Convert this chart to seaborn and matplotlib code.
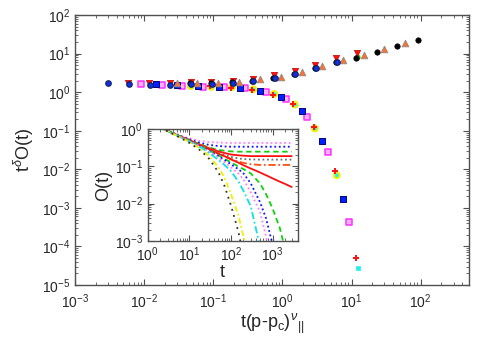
import numpy as np
import matplotlib
matplotlib.use('Agg')
import matplotlib.pyplot as plt
from matplotlib.ticker import LogLocator, NullFormatter
import seaborn as sns

# ---- main panel: scaled data t^delta O(t) vs t(p-pc)^nu ----
# upper branch (active side)
blue_x = [0.003, 0.006, 0.012, 0.024, 0.048, 0.096, 0.19, 0.38, 0.77, 1.54, 3.07, 6.1]
blue_y = [1.7, 1.6, 1.55, 1.55, 1.6, 1.6, 1.7, 1.9, 2.35, 3.0, 4.2, 5.9]
red_x = [0.0059, 0.0118, 0.0236, 0.047, 0.094, 0.19, 0.38, 0.75, 1.5, 3.0, 6.0, 12.2]
red_y = [1.75, 1.7, 1.7, 1.8, 1.85, 1.9, 2.15, 2.75, 3.6, 5.1, 7.5, 10.5]
tri_x = [0.0295, 0.059, 0.118, 0.236, 0.47, 0.95, 1.9, 3.8, 7.6, 15.1, 30, 60]
tri_y = [1.76, 1.7, 1.76, 1.87, 2.15, 2.5, 3.4, 4.8, 6.7, 9.5, 13.4, 19]
black_x = [0.046, 0.092, 0.184, 0.368, 0.736, 1.47, 2.94, 5.9, 11.7, 23, 46, 92]
black_y = [1.76, 1.75, 1.8, 1.95, 2.3, 3.0, 4.2, 6.0, 7.8, 11.2, 15.9, 22.4]
green_x = [1.5, 3.0, 6.0, 12.0]
green_y = [3.0, 4.2, 5.9, 8.3]

# lower branch (absorbing side)
mag_x = [0.0089, 0.0178, 0.0356, 0.071, 0.142, 0.285, 0.57, 1.14, 2.28, 4.56, 9.1]
mag_y = [1.62, 1.55, 1.44, 1.4, 1.35, 1.26, 1.02, 0.66, 0.23, 0.028, 4.3e-4]
bsq_x = [0.015, 0.03, 0.06, 0.12, 0.24, 0.48, 0.96, 1.9, 3.8, 7.6]
bsq_y = [1.62, 1.55, 1.47, 1.38, 1.26, 1.08, 0.76, 0.33, 0.055, 1.7e-3]
yel_x = [0.047, 0.093, 0.186, 0.38, 0.76, 1.51, 2.95, 6.1]
yel_y = [1.45, 1.38, 1.35, 1.19, 0.9, 0.48, 0.115, 7e-3]
cyan_x = yel_x + [12.3]
cyan_y = yel_y + [2.8e-5]
plus_x = [0.09, 0.18, 0.36, 0.72, 1.44, 2.85, 5.75, 11.5]
plus_y = [1.42, 1.3, 1.15, 0.85, 0.5, 0.128, 9e-3, 5.1e-5]

# ---- inset: raw O(t) ----
t_grid = [2, 3, 5, 7, 10, 15, 20, 30, 50, 70, 100, 150, 200, 300, 500, 700, 1000, 1500, 2000, 2900]
nan = np.nan
o_crit = [1.12, 0.91, 0.70, 0.60, 0.50, 0.41, 0.35, 0.29, 0.22, 0.19, 0.155, 0.127, 0.108, 0.088, 0.069, 0.058, 0.048, 0.039, 0.034, 0.028]
o_mag_up = [1.15, 0.93, 0.74, 0.64, 0.57, 0.51, 0.48, 0.455, 0.44, 0.435, 0.43, 0.43, 0.43, 0.43, 0.43, 0.43, 0.43, 0.43, 0.43, 0.43]
o_blue_up = [1.14, 0.92, 0.72, 0.62, 0.54, 0.46, 0.42, 0.38, 0.355, 0.345, 0.34, 0.34, 0.34, 0.34, 0.34, 0.34, 0.34, 0.34, 0.34, 0.34]
o_green_up = [1.13, 0.92, 0.71, 0.61, 0.52, 0.43, 0.38, 0.32, 0.28, 0.265, 0.255, 0.25, 0.25, 0.25, 0.25, 0.25, 0.25, 0.25, 0.25, 0.25]
o_red_up = [1.12, 0.91, 0.70, 0.60, 0.51, 0.42, 0.37, 0.31, 0.255, 0.23, 0.21, 0.2, 0.195, 0.19, 0.19, 0.19, 0.19, 0.19, 0.19, 0.19]
o_gray_up = [1.12, 0.91, 0.70, 0.60, 0.50, 0.41, 0.36, 0.30, 0.235, 0.205, 0.18, 0.165, 0.158, 0.155, 0.153, 0.153, 0.153, 0.153, 0.153, 0.153]
o_orange_up = [1.12, 0.91, 0.70, 0.60, 0.50, 0.41, 0.355, 0.29, 0.225, 0.19, 0.16, 0.135, 0.125, 0.115, 0.11, 0.11, 0.11, 0.11, 0.11, 0.11]
o_green_dn = [1.12, 0.91, 0.69, 0.59, 0.49, 0.40, 0.34, 0.27, 0.2, 0.16, 0.13, 0.1, 0.085, 0.065, 0.035, 0.018, 0.0075, 0.0022, 0.0006, nan]
o_blue_dn = [1.12, 0.91, 0.69, 0.59, 0.49, 0.40, 0.34, 0.26, 0.19, 0.15, 0.115, 0.085, 0.065, 0.035, 0.011, 0.004, 0.0008, nan, nan, nan]
o_mag_dn = [1.12, 0.91, 0.69, 0.59, 0.48, 0.39, 0.33, 0.25, 0.175, 0.13, 0.095, 0.065, 0.045, 0.02, 0.006, 0.0013, 0.0002, nan, nan, nan]
o_cyan_dn = [1.11, 0.90, 0.68, 0.58, 0.47, 0.37, 0.31, 0.23, 0.15, 0.11, 0.075, 0.04, 0.022, 0.0085, 0.0007, 0.00015, nan, nan, nan, nan]
o_yel_dn = [1.10, 0.89, 0.67, 0.56, 0.45, 0.35, 0.28, 0.19, 0.095, 0.05, 0.018, 0.005, 0.0013, 0.00012, nan, nan, nan, nan, nan, nan]
o_black_dn = [1.10, 0.88, 0.66, 0.54, 0.43, 0.32, 0.25, 0.16, 0.07, 0.03, 0.009, 0.0018, 0.0004, nan, nan, nan, nan, nan, nan, nan]

sns.set_style('ticks')
plt.rcParams['font.family'] = ['Liberation Sans', 'DejaVu Sans']
plt.rcParams['mathtext.fontset'] = 'custom'
plt.rcParams['mathtext.rm'] = 'Liberation Sans'
plt.rcParams['mathtext.it'] = 'Liberation Sans:italic'

fig = plt.figure(figsize=(4.91, 3.43), dpi=100)
ax = fig.add_axes([0.153, 0.169, 0.802, 0.787])


def style_log_axes(a, size):
    a.set_xscale('log')
    a.set_yscale('log')
    for s in a.spines.values():
        s.set_color('#505050')
        s.set_linewidth(1.0)
    a.tick_params(which='both', direction='in', top=True, right=True, color='#505050', labelsize=size)
    a.tick_params(which='major', length=4, width=0.8)
    a.tick_params(which='minor', length=2, width=0.6)
    for axis in (a.xaxis, a.yaxis):
        axis.set_major_locator(LogLocator(base=10, numticks=20))
        axis.set_minor_locator(LogLocator(base=10, subs=np.arange(2, 10), numticks=100))
        axis.set_minor_formatter(NullFormatter())


style_log_axes(ax, 10)
ax.tick_params(axis='x', pad=5)

# lower branch
sns.scatterplot(x=mag_x, y=mag_y, ax=ax, marker='s', s=15, color='#ffb0ff', edgecolor='#ff30ff', linewidth=1.1, zorder=3)
sns.scatterplot(x=bsq_x, y=bsq_y, ax=ax, marker='s', s=14, color='#0020ff', edgecolor='#000080', linewidth=0.7, zorder=3)
sns.scatterplot(x=cyan_x, y=cyan_y, ax=ax, marker='s', s=10, color='#20f0f0', edgecolor='#20f0f0', linewidth=0.5, zorder=3)
sns.scatterplot(x=yel_x, y=yel_y, ax=ax, marker='o', s=18, facecolor='none', edgecolor='#f0f000', linewidth=1.4, zorder=4)
sns.scatterplot(x=plus_x, y=plus_y, ax=ax, marker='+', s=22, color='#ff1010', linewidth=1.4, zorder=4)

# upper branch
sns.scatterplot(x=green_x, y=green_y, ax=ax, marker='o', s=14, color='#10e010', edgecolor='#10a010', linewidth=0.5, zorder=3)
sns.scatterplot(x=red_x, y=red_y, ax=ax, marker='v', s=20, color='#ff1010', edgecolor='#c00000', linewidth=0.5, zorder=3)
sns.scatterplot(x=tri_x, y=tri_y, ax=ax, marker='^', s=22, color='#ff7030', edgecolor='#a08878', linewidth=0.7, zorder=3)
sns.scatterplot(x=black_x, y=black_y, ax=ax, marker='o', s=15, color='black', edgecolor='black', linewidth=0.5, zorder=4)
sns.scatterplot(x=blue_x, y=blue_y, ax=ax, marker='o', s=16, color='#1030e0', edgecolor='#102060', linewidth=0.8, zorder=5)

ax.set_xlim(1e-3, 500)
ax.set_ylim(1e-5, 1e2)
ax.set_xlabel(r'$\mathrm{t(p\text{-}p_c)}^{\nu}{}_{||}$', fontsize=13, labelpad=1)
ax.set_ylabel(r'$\mathrm{t}^{\delta}\mathrm{O(t)}$', fontsize=13, labelpad=4)

# inset
axi = fig.add_axes([0.301, 0.298, 0.305, 0.325])
style_log_axes(axi, 10)
curves = [
    (o_mag_up, '#ff80ff', (0, (1, 1.5))),
    (o_blue_up, '#1010ff', (0, (1, 1.5))),
    (o_green_up, '#10d010', (0, (3, 2))),
    (o_red_up, '#ff1010', '-'),
    (o_gray_up, '#707070', (0, (1, 1.5))),
    (o_orange_up, '#ff5010', (0, (4, 1.5, 1, 1.5))),
    (o_crit, '#ff1010', '-'),
    (o_green_dn, '#10d010', (0, (3, 2))),
    (o_blue_dn, '#1010ff', (0, (1, 1.5))),
    (o_mag_dn, '#ff80ff', (0, (1, 1.5))),
    (o_cyan_dn, '#10e0e0', (0, (4, 1.5, 1, 1.5))),
    (o_yel_dn, '#f0f000', (0, (3, 1.5, 1, 1.5))),
    (o_black_dn, '#303030', (0, (1, 2.5))),
]
for vals, col, ls in curves:
    sns.lineplot(x=t_grid, y=vals, ax=axi, color=col, linestyle=ls, linewidth=1.3, estimator=None, sort=False)

axi.set_xlim(1, 4000)
axi.set_ylim(1e-3, 1)
axi.set_xlabel('t', fontsize=13, labelpad=0)
axi.set_ylabel('O(t)', fontsize=13, labelpad=2)

fig.savefig('out.png', dpi=100)
